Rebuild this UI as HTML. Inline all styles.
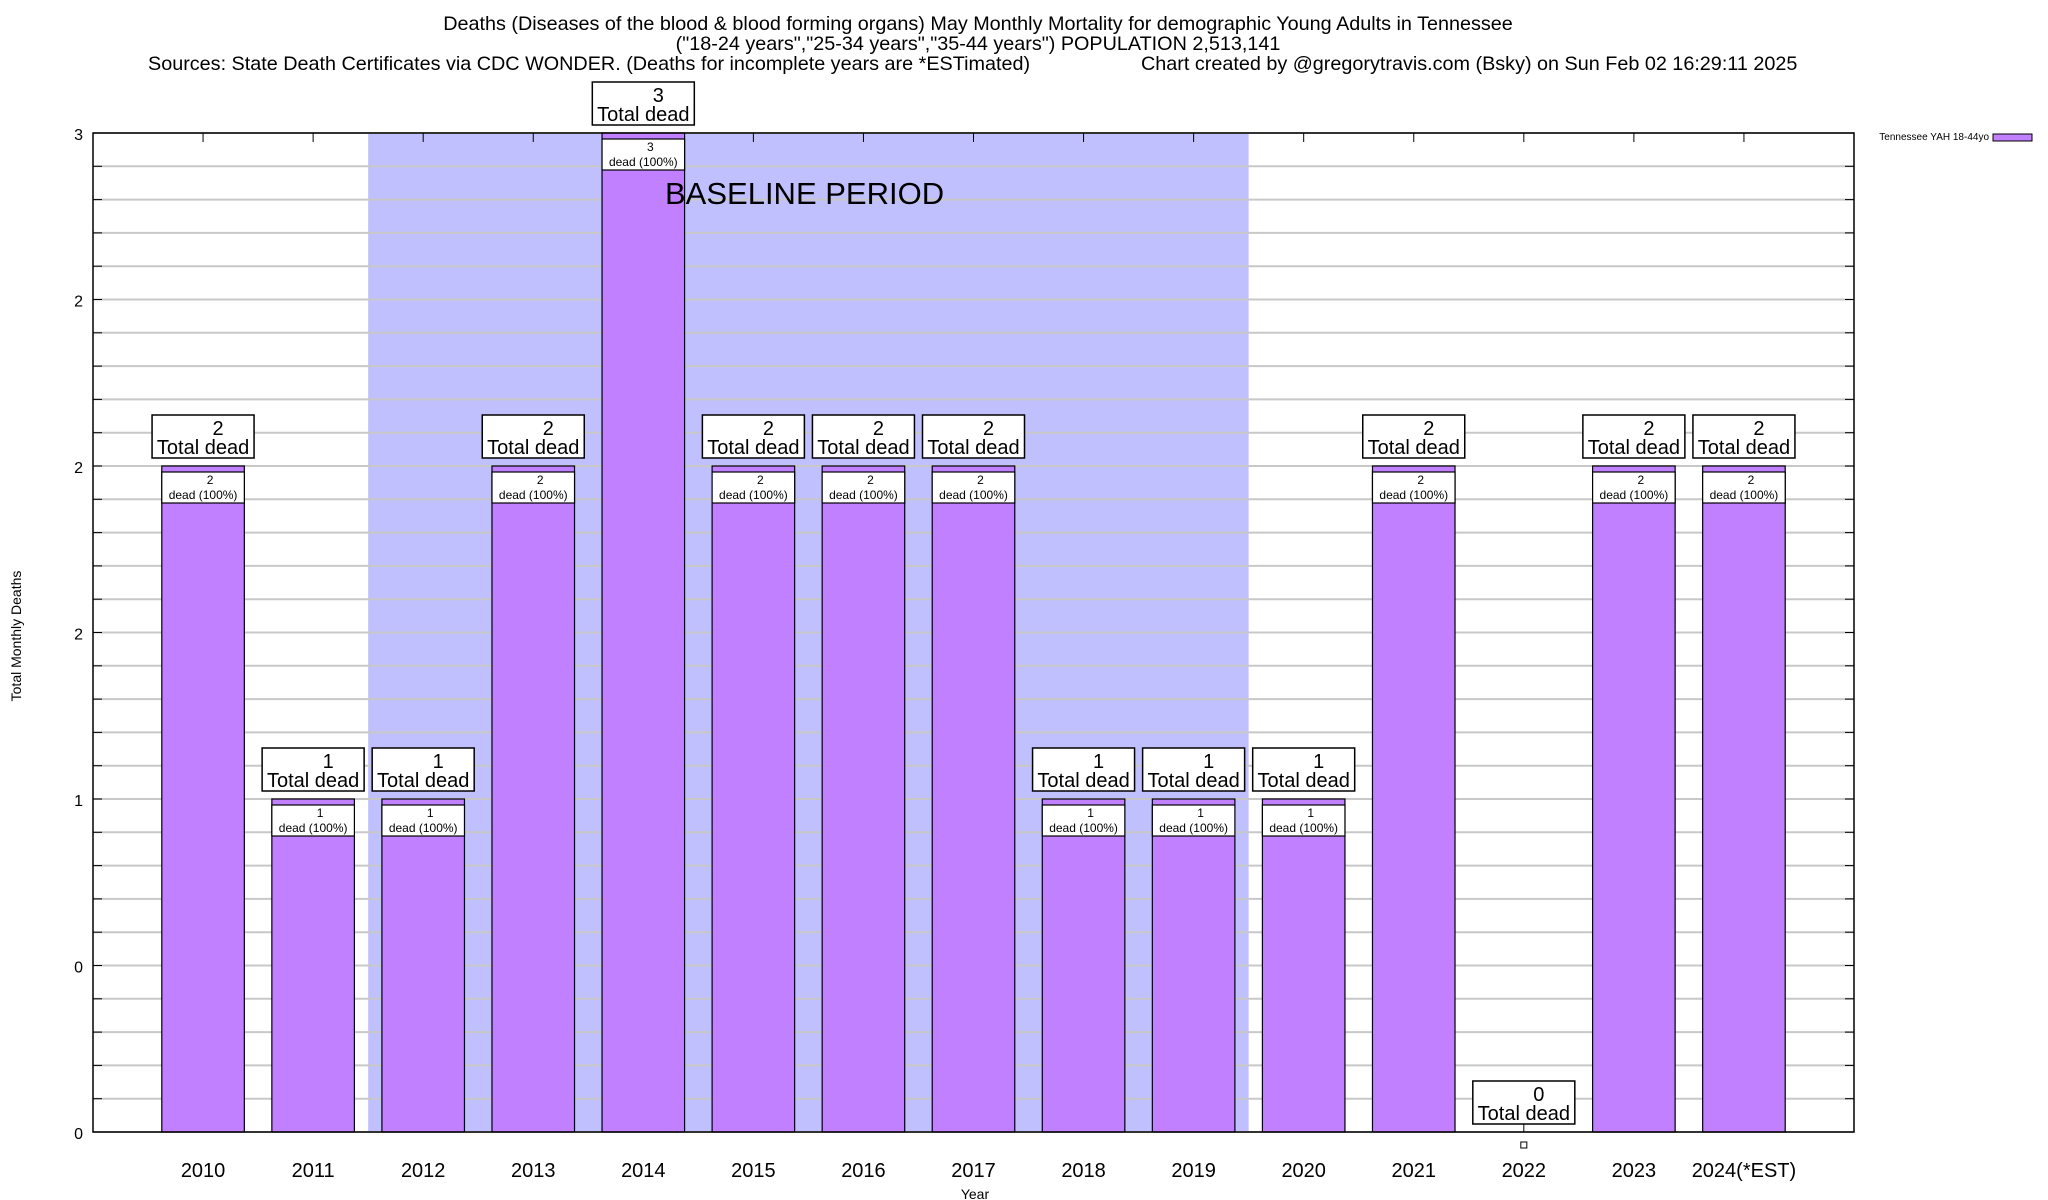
<!DOCTYPE html>
<html><head><meta charset="utf-8"><style>
html,body{margin:0;padding:0;background:#fff;}
svg{display:block;font-family:"Liberation Sans",sans-serif;}
</style></head><body>
<svg id="chart" width="2048" height="1200" viewBox="0 0 2048 1200">
<g font-size="19.8" text-anchor="middle" fill="#000">
<text x="978" y="30">Deaths (Diseases of the blood &amp; blood forming organs) May Monthly Mortality for demographic Young Adults in Tennessee</text>
<text x="978" y="50">("18-24 years","25-34 years","35-44 years") POPULATION 2,513,141</text>
<text x="148" y="70" text-anchor="start">Sources: State Death Certificates via CDC WONDER. (Deaths for incomplete years are *ESTimated)</text>
<text x="1141" y="70" text-anchor="start">Chart created by @gregorytravis.com (Bsky) on Sun Feb 02 16:29:11 2025</text>
</g>
<g id="plot"></g>
<g>
<text x="1989" y="140" font-size="10" text-anchor="end">Tennessee YAH 18-44yo</text>
<rect x="1993" y="134" width="39" height="7" fill="#c080ff" stroke="#000" stroke-width="1"/>
</g>
<text x="975" y="1199" font-size="14" text-anchor="middle">Year</text>
<text transform="translate(21,636) rotate(-90)" font-size="14" text-anchor="middle">Total Monthly Deaths</text>
</svg>
<script>
const categories = ["2010","2011","2012","2013","2014","2015","2016","2017","2018","2019","2020","2021","2022","2023","2024(*EST)"];
const deaths = [2,1,1,2,3,2,2,2,1,1,1,2,0,2,2];
const yTickValues = [0,0.5,1,1.5,2,2.5,3];
const yTickLabels = ["0","0","1","2","2","2","3"];
const baselineStart = 1.5, baselineEnd = 9.5;

const L=93,R=1854,T=133,B=1132;
const NS="http://www.w3.org/2000/svg";
const g=document.getElementById('plot');
function xs(i){return L+(i+1)*(R-L)/(categories.length+1);}
function ys(v){return B-(v/3)*(B-T);}
const slot=(R-L)/(categories.length+1);
const bw=slot*0.75;
function mk(tag,attrs,parent){const e=document.createElementNS(NS,tag);for(const k in attrs)e.setAttribute(k,attrs[k]);(parent||g).appendChild(e);return e;}

const bg=mk('rect',{x:xs(baselineStart),y:T,width:xs(baselineEnd)-xs(baselineStart),height:B-T,fill:'#c0c0ff'});



for(let k=0;k<=30;k++){
  const v=k*0.1;const y=ys(v);
  const ln=mk('line',{x1:L,x2:R,y1:y,y2:y,stroke:'#c8c8c8','stroke-width':2});
  
  
  mk('line',{x1:R-9,x2:R,y1:y,y2:y,stroke:'#000','stroke-width':1});
  mk('line',{x1:L,x2:L+9,y1:y,y2:y,stroke:'#000','stroke-width':1});
}
yTickValues.forEach((v,i)=>{
  const t=mk('text',{x:L-10,y:ys(v)+7,'font-size':16,'text-anchor':'end'});
  t.textContent=yTickLabels[i];
  
  
});

categories.forEach((c,i)=>{
  const cx=xs(i),v=deaths[i];
  mk('line',{x1:cx,x2:cx,y1:T,y2:T+9,stroke:'#000','stroke-width':1});
  if(v>0){
    const b=mk('rect',{x:cx-bw/2,y:ys(v),width:bw,height:B-ys(v),fill:'#c080ff',stroke:'#000','stroke-width':1.2});
    
    
    const ib=mk('rect',{x:cx-bw/2,y:ys(v)+6,width:bw,height:31,fill:'#fff',stroke:'#000','stroke-width':1.2});
    
    
    const t1=mk('text',{x:cx+7,y:ys(v)+18,'font-size':12,'text-anchor':'middle'});t1.textContent=v;
    const t2=mk('text',{x:cx,y:ys(v)+33,'font-size':12,'text-anchor':'middle'});t2.textContent='dead (100%)';
  } else {
    mk('line',{x1:cx,x2:cx,y1:ys(v)-8,y2:B,stroke:'#000','stroke-width':1});
    mk('rect',{x:cx-3,y:B+10,width:6,height:6,fill:'#fff',stroke:'#000','stroke-width':1});
  }
  const by=ys(v)-8-43;
  const ob=mk('rect',{x:cx-51,y:by,width:102,height:43,fill:'#fff',stroke:'#000','stroke-width':1.5});
  
  
  const o1=mk('text',{x:cx+15,y:by+20,'font-size':20,'text-anchor':'middle'});o1.textContent=v;
  const o2=mk('text',{x:cx,y:by+39,'font-size':20,'text-anchor':'middle'});o2.textContent='Total dead';
  const xl=mk('text',{x:cx,y:1177,'font-size':20,'text-anchor':'middle'});
  xl.textContent=c;
  
  
});

const bl=mk('text',{x:665,y:204,'font-size':31});
bl.textContent='BASELINE PERIOD';



const frame=mk('rect',{x:L,y:T,width:R-L,height:B-T,fill:'none',stroke:'#000','stroke-width':1.5});


</script>
</body></html>
